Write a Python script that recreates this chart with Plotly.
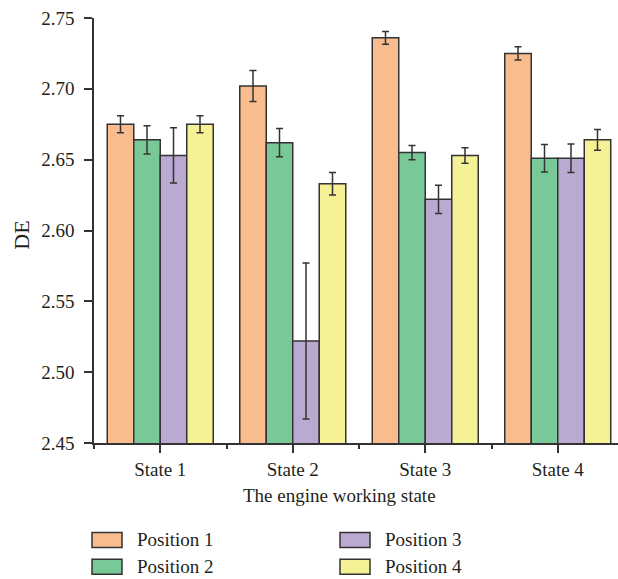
import plotly.graph_objects as go

# Engine working states and sensor positions
states = ["State 1", "State 2", "State 3", "State 4"]
positions = ["Position 1", "Position 2", "Position 3", "Position 4"]

# Mean DE per position (one value per state)
de_pos1 = [2.675, 2.702, 2.736, 2.725]
de_pos2 = [2.664, 2.662, 2.655, 2.651]
de_pos3 = [2.653, 2.522, 2.622, 2.651]
de_pos4 = [2.675, 2.633, 2.653, 2.664]

# Error bar half-widths
err_pos1 = [0.006, 0.011, 0.0045, 0.0047]
err_pos2 = [0.010, 0.010, 0.005, 0.0097]
err_pos3 = [0.0195, 0.055, 0.010, 0.010]
err_pos4 = [0.006, 0.008, 0.0055, 0.0073]

colors = ["#F9BC8E", "#79C898", "#BAA9D1", "#F5F197"]

series = [de_pos1, de_pos2, de_pos3, de_pos4]
errors = [err_pos1, err_pos2, err_pos3, err_pos4]

FONT = "Liberation Serif"
TXT = "#231F20"
EDGE = "#333333"

fig = go.Figure()
xs = list(range(len(states)))
for name, vals, errs, col in zip(positions, series, errors, colors):
    fig.add_trace(go.Bar(
        x=xs, y=vals, name=name,
        marker=dict(color=col, line=dict(color=EDGE, width=1.5)),
        error_y=dict(type="data", array=errs, visible=True,
                     color=EDGE, thickness=1.5, width=3.5),
        showlegend=False,
    ))

L, T, B = 94, 17.5, 136
W, H = 618, 579
pw = W - L
ph = H - T - B

fig.update_layout(
    width=W, height=H,
    margin=dict(l=L, r=0, t=T, b=B, pad=0),
    barmode="group", bargap=0.2, bargroupgap=0,
    plot_bgcolor="white", paper_bgcolor="white",
    font=dict(family=FONT, size=19, color=TXT),
    xaxis=dict(
        range=[-0.5, -0.5 + pw / 132.5],
        tickmode="array", tickvals=xs, ticktext=states,
        ticks="outside", ticklen=8, tickwidth=1.5, tickcolor=EDGE,
        showline=True, linecolor=EDGE, linewidth=1.5,
        showgrid=False, zeroline=False,
        minor=dict(tickmode="array", tickvals=[-0.5, 0.5, 1.5, 2.5, 3.5],
                   ticks="outside", ticklen=4, tickwidth=1.5, tickcolor=EDGE),
        tickfont=dict(size=19, family=FONT, color=TXT),
    ),
    yaxis=dict(
        range=[2.45, 2.75],
        tickmode="array",
        tickvals=[2.45, 2.50, 2.55, 2.60, 2.65, 2.70, 2.75],
        ticktext=["2.45", "2.50", "2.55", "2.60", "2.65", "2.70", "2.75"],
        ticks="outside", ticklen=8, tickwidth=1.5, tickcolor=EDGE,
        ticklabelstandoff=6,
        showline=True, linecolor=EDGE, linewidth=1.5,
        showgrid=False, zeroline=False,
        tickfont=dict(size=19, family=FONT, color=TXT),
    ),
)

def px_x(p):
    return (p - L) / pw

def px_y(p):
    return (H - B - p) / ph

annotations = [
    dict(text="DE", x=px_x(21.5), y=px_y(235), xref="paper", yref="paper",
         textangle=-90, showarrow=False, xanchor="center", yanchor="middle",
         font=dict(size=22, family=FONT, color=TXT)),
    dict(text="The engine working state", x=px_x(339), y=px_y(496),
         xref="paper", yref="paper", showarrow=False,
         xanchor="center", yanchor="middle",
         font=dict(size=19, family=FONT, color=TXT)),
]

# Legend drawn as swatches with labels in two columns
shapes = []
legend_pos = [(92, 540), (92, 567), (340, 540), (340, 567)]
for name, col, (lx, ly) in zip(positions, colors, legend_pos):
    shapes.append(dict(type="rect", xref="paper", yref="paper",
                       x0=px_x(lx), x1=px_x(lx + 30),
                       y0=px_y(ly + 7.5), y1=px_y(ly - 7.5),
                       fillcolor=col, line=dict(color=EDGE, width=1.5)))
    annotations.append(dict(text=name, x=px_x(lx + 43), y=px_y(ly),
                            xref="paper", yref="paper", showarrow=False,
                            xanchor="left", yanchor="middle",
                            font=dict(size=19, family=FONT, color=TXT)))

fig.update_layout(annotations=annotations, shapes=shapes)

fig.write_html("out.html")
